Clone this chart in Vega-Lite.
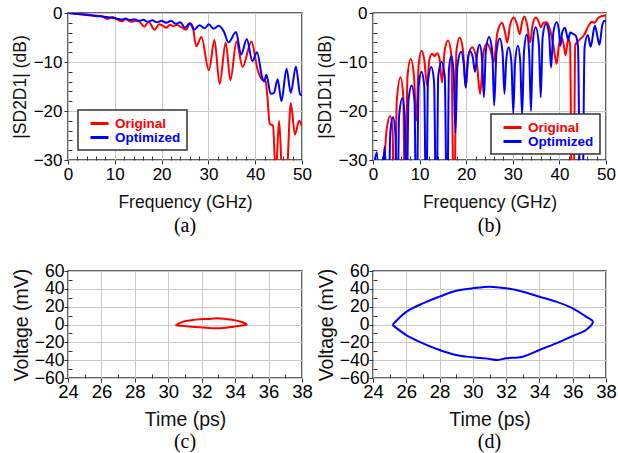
{
  "$schema": "https://vega.github.io/schema/vega-lite/v6.json",
  "background": "white",
  "padding": {"left": 10, "top": 3, "right": 0, "bottom": 0},
  "datasets": {
    "a": [
      {"f":0,"db":0,"s":"Original"},{"f":2,"db":-0.15,"s":"Original"},{"f":4,"db":-0.3,"s":"Original"},{"f":6,"db":-0.55,"s":"Original"},{"f":7,"db":-0.6,"s":"Original"},{"f":8.5,"db":-1.2,"s":"Original"},{"f":9.5,"db":-0.8,"s":"Original"},{"f":10.5,"db":-1.3,"s":"Original"},{"f":11.5,"db":-1.7,"s":"Original"},{"f":12.3,"db":-1.3,"s":"Original"},{"f":13.5,"db":-1.8,"s":"Original"},{"f":14.5,"db":-1.6,"s":"Original"},{"f":15.3,"db":-1.8,"s":"Original"},{"f":16.3,"db":-2.8,"s":"Original"},{"f":17.2,"db":-1.8,"s":"Original"},{"f":18.5,"db":-3.4,"s":"Original"},{"f":19.5,"db":-2.3,"s":"Original"},{"f":20.3,"db":-2.6,"s":"Original"},{"f":21,"db":-3.0,"s":"Original"},{"f":21.8,"db":-2.4,"s":"Original"},{"f":22.5,"db":-2.7,"s":"Original"},{"f":23.3,"db":-2.4,"s":"Original"},{"f":24.2,"db":-2.9,"s":"Original"},{"f":25.2,"db":-3.4,"s":"Original"},{"f":26.1,"db":-2.1,"s":"Original"},{"f":26.6,"db":-2.6,"s":"Original"},{"f":27.4,"db":-6.8,"s":"Original"},{"f":28.5,"db":-4.9,"s":"Original"},{"f":30.1,"db":-11.7,"s":"Original"},{"f":31.3,"db":-5.5,"s":"Original"},{"f":32.4,"db":-14.5,"s":"Original"},{"f":33.7,"db":-6.0,"s":"Original"},{"f":34.7,"db":-13.7,"s":"Original"},{"f":36.0,"db":-5.8,"s":"Original"},{"f":37.3,"db":-11,"s":"Original"},{"f":39.2,"db":-5.8,"s":"Original"},{"f":40.5,"db":-11.5,"s":"Original"},{"f":41.5,"db":-13.6,"s":"Original"},{"f":42.2,"db":-13.9,"s":"Original"},{"f":42.6,"db":-17,"s":"Original"},{"f":43.1,"db":-22.6,"s":"Original"},{"f":43.8,"db":-23,"s":"Original"},{"f":44.4,"db":-33,"s":"Original"},{"f":45.1,"db":-22,"s":"Original"},{"f":45.8,"db":-33,"s":"Original"},{"f":46.7,"db":-33,"s":"Original"},{"f":47.6,"db":-18.4,"s":"Original"},{"f":48.5,"db":-24.8,"s":"Original"},{"f":49.4,"db":-22,"s":"Original"},{"f":50,"db":-23.2,"s":"Original"},
      {"f":0,"db":0,"s":"Optimized"},{"f":2,"db":-0.2,"s":"Optimized"},{"f":4,"db":-0.4,"s":"Optimized"},{"f":6,"db":-0.6,"s":"Optimized"},{"f":8,"db":-0.8,"s":"Optimized"},{"f":9.6,"db":-1.0,"s":"Optimized"},{"f":10.5,"db":-1.15,"s":"Optimized"},{"f":11.5,"db":-1.35,"s":"Optimized"},{"f":12.3,"db":-1.1,"s":"Optimized"},{"f":13.2,"db":-1.45,"s":"Optimized"},{"f":14.2,"db":-1.3,"s":"Optimized"},{"f":15.2,"db":-1.6,"s":"Optimized"},{"f":16.1,"db":-1.4,"s":"Optimized"},{"f":17,"db":-1.8,"s":"Optimized"},{"f":18,"db":-1.5,"s":"Optimized"},{"f":19,"db":-1.9,"s":"Optimized"},{"f":20,"db":-1.6,"s":"Optimized"},{"f":21,"db":-2.0,"s":"Optimized"},{"f":22,"db":-1.6,"s":"Optimized"},{"f":23,"db":-2.2,"s":"Optimized"},{"f":24,"db":-1.9,"s":"Optimized"},{"f":25,"db":-3.0,"s":"Optimized"},{"f":26,"db":-2.1,"s":"Optimized"},{"f":27,"db":-3.4,"s":"Optimized"},{"f":28.1,"db":-2.5,"s":"Optimized"},{"f":29.2,"db":-3.1,"s":"Optimized"},{"f":30.1,"db":-2.3,"s":"Optimized"},{"f":31.1,"db":-3.2,"s":"Optimized"},{"f":32.2,"db":-2.6,"s":"Optimized"},{"f":33.3,"db":-3.8,"s":"Optimized"},{"f":34.3,"db":-6.0,"s":"Optimized"},{"f":35.9,"db":-3.9,"s":"Optimized"},{"f":37.0,"db":-8.5,"s":"Optimized"},{"f":38.2,"db":-5.3,"s":"Optimized"},{"f":39.4,"db":-9.8,"s":"Optimized"},{"f":40.4,"db":-8.0,"s":"Optimized"},{"f":41.5,"db":-13.2,"s":"Optimized"},{"f":41.9,"db":-14,"s":"Optimized"},{"f":42.4,"db":-12.6,"s":"Optimized"},{"f":43.3,"db":-16.5,"s":"Optimized"},{"f":44.0,"db":-16.3,"s":"Optimized"},{"f":44.8,"db":-13.5,"s":"Optimized"},{"f":45.6,"db":-18.0,"s":"Optimized"},{"f":46.7,"db":-11.4,"s":"Optimized"},{"f":47.6,"db":-16.3,"s":"Optimized"},{"f":48.7,"db":-10.9,"s":"Optimized"},{"f":49.6,"db":-16.6,"s":"Optimized"},{"f":50,"db":-16.8,"s":"Optimized"}
    ],
    "b": [
      {"f":0,"db":-45,"s":"Original"},{"f":1.5,"db":-42,"s":"Original"},{"f":2.3,"db":-33,"s":"Original"},{"f":2.9,"db":-24,"s":"Original"},{"f":3.7,"db":-21,"s":"Original"},{"f":4.2,"db":-24,"s":"Original"},{"f":4.6,"db":-45,"s":"Original"},{"f":5.1,"db":-18,"s":"Original"},{"f":5.9,"db":-13.1,"s":"Original"},{"f":6.5,"db":-17,"s":"Original"},{"f":6.9,"db":-45,"s":"Original"},{"f":7.4,"db":-13,"s":"Original"},{"f":8.1,"db":-9.4,"s":"Original"},{"f":8.8,"db":-13,"s":"Original"},{"f":9.3,"db":-22,"s":"Original"},{"f":9.8,"db":-10.5,"s":"Original"},{"f":10.4,"db":-7.7,"s":"Original"},{"f":11.0,"db":-9.5,"s":"Original"},{"f":11.6,"db":-14.8,"s":"Original"},{"f":12.1,"db":-9.5,"s":"Original"},{"f":12.7,"db":-8.3,"s":"Original"},{"f":13.2,"db":-8.8,"s":"Original"},{"f":13.8,"db":-8.2,"s":"Original"},{"f":14.3,"db":-9.5,"s":"Original"},{"f":14.8,"db":-14.2,"s":"Original"},{"f":15.4,"db":-7.5,"s":"Original"},{"f":16.1,"db":-5.6,"s":"Original"},{"f":16.8,"db":-8.5,"s":"Original"},{"f":17.4,"db":-45,"s":"Original"},{"f":17.9,"db":-7.8,"s":"Original"},{"f":18.6,"db":-5.0,"s":"Original"},{"f":19.3,"db":-7.5,"s":"Original"},{"f":19.9,"db":-15.2,"s":"Original"},{"f":20.5,"db":-8.5,"s":"Original"},{"f":21.3,"db":-7.0,"s":"Original"},{"f":22.2,"db":-9.5,"s":"Original"},{"f":23.0,"db":-16.5,"s":"Original"},{"f":23.7,"db":-8,"s":"Original"},{"f":24.5,"db":-6.2,"s":"Original"},{"f":25.2,"db":-7.5,"s":"Original"},{"f":25.9,"db":-10.0,"s":"Original"},{"f":26.7,"db":-4,"s":"Original"},{"f":27.7,"db":-2.0,"s":"Original"},{"f":28.3,"db":-3.8,"s":"Original"},{"f":28.8,"db":-6.0,"s":"Original"},{"f":29.4,"db":-2.5,"s":"Original"},{"f":30.2,"db":-0.9,"s":"Original"},{"f":30.9,"db":-2.3,"s":"Original"},{"f":31.5,"db":-4.3,"s":"Original"},{"f":32.0,"db":-1.8,"s":"Original"},{"f":32.5,"db":-0.7,"s":"Original"},{"f":33.1,"db":-2.5,"s":"Original"},{"f":33.7,"db":-6.0,"s":"Original"},{"f":34.3,"db":-2.2,"s":"Original"},{"f":34.9,"db":-0.9,"s":"Original"},{"f":35.5,"db":-1.6,"s":"Original"},{"f":36.0,"db":-2.9,"s":"Original"},{"f":36.6,"db":-2.0,"s":"Original"},{"f":37.3,"db":-1.9,"s":"Original"},{"f":38.0,"db":-3.5,"s":"Original"},{"f":38.7,"db":-6.5,"s":"Original"},{"f":39.4,"db":-10.4,"s":"Original"},{"f":39.9,"db":-6.5,"s":"Original"},{"f":40.5,"db":-5.0,"s":"Original"},{"f":41.0,"db":-7,"s":"Original"},{"f":41.3,"db":-8.6,"s":"Original"},{"f":41.9,"db":-5.3,"s":"Original"},{"f":42.3,"db":-6.5,"s":"Original"},{"f":42.7,"db":-45,"s":"Original"},{"f":43.0,"db":-45,"s":"Original"},{"f":43.4,"db":-6.5,"s":"Original"},{"f":44.3,"db":-5.5,"s":"Original"},{"f":45.3,"db":-4.5,"s":"Original"},{"f":46.3,"db":-2.5,"s":"Original"},{"f":47.0,"db":-1.8,"s":"Original"},{"f":47.5,"db":-2.0,"s":"Original"},{"f":48.3,"db":-1.0,"s":"Original"},{"f":49.2,"db":-0.6,"s":"Original"},{"f":50,"db":-0.5,"s":"Original"},
      {"f":0,"db":-33,"s":"Optimized"},{"f":0.87,"db":-28.4,"s":"Optimized"},{"f":1.6,"db":-45,"s":"Optimized"},{"f":2.5,"db":-27.3,"s":"Optimized"},{"f":3.3,"db":-45,"s":"Optimized"},{"f":3.7,"db":-24.5,"s":"Optimized"},{"f":4.3,"db":-21.3,"s":"Optimized"},{"f":4.8,"db":-24.5,"s":"Optimized"},{"f":5.2,"db":-45,"s":"Optimized"},{"f":5.6,"db":-21,"s":"Optimized"},{"f":6.3,"db":-17.4,"s":"Optimized"},{"f":6.8,"db":-21,"s":"Optimized"},{"f":7.2,"db":-45,"s":"Optimized"},{"f":7.6,"db":-18,"s":"Optimized"},{"f":8.3,"db":-14.8,"s":"Optimized"},{"f":8.9,"db":-18,"s":"Optimized"},{"f":9.3,"db":-45,"s":"Optimized"},{"f":9.8,"db":-15,"s":"Optimized"},{"f":10.4,"db":-12.0,"s":"Optimized"},{"f":11.0,"db":-15,"s":"Optimized"},{"f":11.4,"db":-45,"s":"Optimized"},{"f":11.8,"db":-14,"s":"Optimized"},{"f":12.5,"db":-11.0,"s":"Optimized"},{"f":13.1,"db":-14,"s":"Optimized"},{"f":13.6,"db":-45,"s":"Optimized"},{"f":14.0,"db":-13,"s":"Optimized"},{"f":14.7,"db":-10.0,"s":"Optimized"},{"f":15.4,"db":-13,"s":"Optimized"},{"f":15.9,"db":-45,"s":"Optimized"},{"f":16.3,"db":-11.5,"s":"Optimized"},{"f":16.8,"db":-8.8,"s":"Optimized"},{"f":17.3,"db":-12,"s":"Optimized"},{"f":17.7,"db":-24.4,"s":"Optimized"},{"f":18.1,"db":-11,"s":"Optimized"},{"f":18.9,"db":-7.9,"s":"Optimized"},{"f":19.5,"db":-10.5,"s":"Optimized"},{"f":19.9,"db":-15.2,"s":"Optimized"},{"f":20.3,"db":-10,"s":"Optimized"},{"f":20.8,"db":-7.8,"s":"Optimized"},{"f":21.4,"db":-9,"s":"Optimized"},{"f":21.9,"db":-12,"s":"Optimized"},{"f":22.4,"db":-8,"s":"Optimized"},{"f":22.9,"db":-6.5,"s":"Optimized"},{"f":23.4,"db":-9.5,"s":"Optimized"},{"f":23.8,"db":-17.2,"s":"Optimized"},{"f":24.2,"db":-8,"s":"Optimized"},{"f":24.9,"db":-4.9,"s":"Optimized"},{"f":25.6,"db":-8,"s":"Optimized"},{"f":26.0,"db":-18.9,"s":"Optimized"},{"f":26.5,"db":-8,"s":"Optimized"},{"f":27.2,"db":-5.2,"s":"Optimized"},{"f":27.8,"db":-8,"s":"Optimized"},{"f":28.2,"db":-16.5,"s":"Optimized"},{"f":28.6,"db":-9.5,"s":"Optimized"},{"f":29.1,"db":-7.0,"s":"Optimized"},{"f":29.7,"db":-10,"s":"Optimized"},{"f":30.1,"db":-20.5,"s":"Optimized"},{"f":30.5,"db":-10,"s":"Optimized"},{"f":31.1,"db":-6.7,"s":"Optimized"},{"f":31.6,"db":-10,"s":"Optimized"},{"f":32.0,"db":-21,"s":"Optimized"},{"f":32.4,"db":-8,"s":"Optimized"},{"f":33.0,"db":-4.4,"s":"Optimized"},{"f":33.5,"db":-8,"s":"Optimized"},{"f":33.9,"db":-20,"s":"Optimized"},{"f":34.3,"db":-6,"s":"Optimized"},{"f":34.9,"db":-2.9,"s":"Optimized"},{"f":35.6,"db":-6.5,"s":"Optimized"},{"f":36.0,"db":-17.2,"s":"Optimized"},{"f":36.4,"db":-5,"s":"Optimized"},{"f":37.1,"db":-2.2,"s":"Optimized"},{"f":37.8,"db":-4.5,"s":"Optimized"},{"f":38.2,"db":-11.1,"s":"Optimized"},{"f":38.7,"db":-4,"s":"Optimized"},{"f":39.4,"db":-1.9,"s":"Optimized"},{"f":39.9,"db":-3.5,"s":"Optimized"},{"f":40.2,"db":-6.7,"s":"Optimized"},{"f":40.6,"db":-4,"s":"Optimized"},{"f":41.2,"db":-3.0,"s":"Optimized"},{"f":41.6,"db":-4.5,"s":"Optimized"},{"f":41.9,"db":-5.5,"s":"Optimized"},{"f":42.3,"db":-4,"s":"Optimized"},{"f":43.0,"db":-4.3,"s":"Optimized"},{"f":43.5,"db":-4.6,"s":"Optimized"},{"f":44.0,"db":-7,"s":"Optimized"},{"f":44.5,"db":-45,"s":"Optimized"},{"f":44.9,"db":-45,"s":"Optimized"},{"f":45.4,"db":-7,"s":"Optimized"},{"f":46.1,"db":-4.5,"s":"Optimized"},{"f":46.7,"db":-6.9,"s":"Optimized"},{"f":47.6,"db":-2.6,"s":"Optimized"},{"f":48.3,"db":-5.5,"s":"Optimized"},{"f":48.6,"db":-6.5,"s":"Optimized"},{"f":49.2,"db":-2.5,"s":"Optimized"},{"f":49.7,"db":-1.6,"s":"Optimized"},{"f":50,"db":-1.8,"s":"Optimized"}
    ],
    "c": [
      {"i":0,"t":30.43,"v":-0.9},{"i":1,"t":30.9,"v":3.2},{"i":2,"t":31.4,"v":4.8},{"i":3,"t":31.9,"v":5.8},{"i":4,"t":32.4,"v":6.2},{"i":5,"t":32.9,"v":6.9},{"i":6,"t":33.4,"v":6.2},{"i":7,"t":33.9,"v":5.0},{"i":8,"t":34.4,"v":2.8},{"i":9,"t":34.69,"v":-0.2},{"i":10,"t":34.4,"v":-1.2},{"i":11,"t":33.9,"v":-2.4},{"i":12,"t":33.4,"v":-3.6},{"i":13,"t":32.9,"v":-4.3},{"i":14,"t":32.4,"v":-4.0},{"i":15,"t":31.9,"v":-3.2},{"i":16,"t":31.4,"v":-2.4},{"i":17,"t":30.9,"v":-1.7},{"i":18,"t":30.43,"v":-0.9}
    ],
    "d": [
      {"i":0,"t":25.17,"v":-0.4},{"i":1,"t":26,"v":14.2},{"i":2,"t":27,"v":23.7},{"i":3,"t":28,"v":31.2},{"i":4,"t":29,"v":37.9},{"i":5,"t":30,"v":40.6},{"i":6,"t":31,"v":42.4},{"i":7,"t":32,"v":40.6},{"i":8,"t":33,"v":36.8},{"i":9,"t":34,"v":31.2},{"i":10,"t":35,"v":25.6},{"i":11,"t":36,"v":18.1},{"i":12,"t":36.8,"v":8.8},{"i":13,"t":37.21,"v":3.0},{"i":14,"t":36.8,"v":-6.2},{"i":15,"t":36,"v":-12.9},{"i":16,"t":35,"v":-21.1},{"i":17,"t":34,"v":-28.6},{"i":18,"t":33,"v":-36.1},{"i":19,"t":32,"v":-37.9},{"i":20,"t":31.5,"v":-39.8},{"i":21,"t":31,"v":-38.7},{"i":22,"t":30,"v":-36.8},{"i":23,"t":29,"v":-34.2},{"i":24,"t":28,"v":-28.6},{"i":25,"t":27,"v":-21.1},{"i":26,"t":26,"v":-11.8},{"i":27,"t":25.17,"v":-0.4}
    ]
  },
  "columns": 2,
  "bounds": "flush",
  "spacing": {"row": 111, "column": 71},
  "resolve": {"scale": {"color": "independent"}, "legend": {"color": "independent"}},
  "concat": [
    {
      "width": 234, "height": 147,
      "data": {"name": "a"},
      "mark": {"type": "line", "clip": true, "strokeWidth": 2, "interpolate": "monotone"},
      "encoding": {
        "x": {"field": "f", "type": "quantitative", "scale": {"domain": [0, 50], "nice": false},
          "axis": {"title": "Frequency (GHz)", "values": [0,2,4,6,8,10,12,14,16,18,20,22,24,26,28,30,32,34,36,38,40,42,44,46,48,50],
            "labelExpr": "datum.value % 10 === 0 ? datum.label : ''",
            "tickSize": {"condition": {"test": "datum.value % 10 === 0", "value": 4}, "value": -4},
            "gridOpacity": {"condition": {"test": "datum.value % 10 === 0", "value": 1}, "value": 0},
            "labelFontSize": 17, "titleFontSize": 17.5, "labelPadding": 2, "titlePadding": 11}},
        "y": {"field": "db", "type": "quantitative", "scale": {"domain": [-30, 0], "nice": false},
          "axis": {"title": "|SD2D1| (dB)", "values": [-30,-28,-26,-24,-22,-20,-18,-16,-14,-12,-10,-8,-6,-4,-2,0],
            "labelExpr": "datum.value % 10 === 0 ? datum.label : ''",
            "tickSize": {"condition": {"test": "datum.value % 10 === 0", "value": 4}, "value": -4},
            "gridOpacity": {"condition": {"test": "datum.value % 10 === 0", "value": 1}, "value": 0},
            "labelFontSize": 17, "titleFontSize": 17.5, "labelPadding": 2, "titlePadding": 4}},
        "color": {"field": "s", "type": "nominal", "sort": ["Original", "Optimized"],
          "scale": {"domain": ["Original", "Optimized"], "range": ["#ff0000", "#0000ff"]},
          "legend": {"title": null,
            "orient": "bottom-left", "offset": 10,
            "symbolType": "M-1.5,0H1.5", "symbolSize": 144, "symbolStrokeWidth": 3,
            "labelFont": "Liberation Sans", "labelFontSize": 13.5, "labelFontWeight": "bold",
            "padding": 6, "rowPadding": 0, "labelOffset": 8, "symbolOffset": 8,
            "fillColor": "white", "strokeColor": "#333",
            "encode": {"labels": {"update": {
                         "fill": [{"test": "datum.value === 'Original'", "value": "#ff0000"}, {"value": "#0000ff"}]}},
                       "legend": {"update": {"strokeWidth": {"value": 1.5}}}}}}
      },
      "title": {"text": "(a)", "orient": "bottom", "offset": 5}
    },
    {
      "width": 233, "height": 147,
      "data": {"name": "b"},
      "mark": {"type": "line", "clip": true, "strokeWidth": 2, "interpolate": "monotone"},
      "encoding": {
        "x": {"field": "f", "type": "quantitative", "scale": {"domain": [0, 50], "nice": false},
          "axis": {"title": "Frequency (GHz)", "values": [0,2,4,6,8,10,12,14,16,18,20,22,24,26,28,30,32,34,36,38,40,42,44,46,48,50],
            "labelExpr": "datum.value % 10 === 0 ? datum.label : ''",
            "tickSize": {"condition": {"test": "datum.value % 10 === 0", "value": 4}, "value": -4},
            "gridOpacity": {"condition": {"test": "datum.value % 10 === 0", "value": 1}, "value": 0},
            "labelFontSize": 17, "titleFontSize": 17.5, "labelPadding": 2, "titlePadding": 11}},
        "y": {"field": "db", "type": "quantitative", "scale": {"domain": [-30, 0], "nice": false},
          "axis": {"title": "|SD1D1| (dB)", "values": [-30,-28,-26,-24,-22,-20,-18,-16,-14,-12,-10,-8,-6,-4,-2,0],
            "labelExpr": "datum.value % 10 === 0 ? datum.label : ''",
            "tickSize": {"condition": {"test": "datum.value % 10 === 0", "value": 4}, "value": -4},
            "gridOpacity": {"condition": {"test": "datum.value % 10 === 0", "value": 1}, "value": 0},
            "labelFontSize": 17, "titleFontSize": 17.5, "labelPadding": 2, "titlePadding": 4}},
        "color": {"field": "s", "type": "nominal", "sort": ["Original", "Optimized"],
          "scale": {"domain": ["Original", "Optimized"], "range": ["#ff0000", "#0000ff"]},
          "legend": {"title": null,
            "orient": "bottom-right", "offset": 6,
            "symbolType": "M-1.5,0H1.5", "symbolSize": 144, "symbolStrokeWidth": 3,
            "labelFont": "Liberation Sans", "labelFontSize": 13.5, "labelFontWeight": "bold",
            "padding": 6, "rowPadding": 0, "labelOffset": 8, "symbolOffset": 8,
            "fillColor": "white", "strokeColor": "#333",
            "encode": {"labels": {"update": {
                         "fill": [{"test": "datum.value === 'Original'", "value": "#ff0000"}, {"value": "#0000ff"}]}},
                       "legend": {"update": {"strokeWidth": {"value": 1.5}}}}}}
      },
      "title": {"text": "(b)", "orient": "bottom", "offset": 5}
    },
    {
      "width": 234, "height": 107,
      "data": {"name": "c"},
      "mark": {"type": "line", "clip": true, "strokeWidth": 2, "color": "#ff0000", "interpolate": "catmull-rom"},
      "encoding": {
        "x": {"field": "t", "type": "quantitative", "scale": {"domain": [24, 38], "nice": false},
          "axis": {"title": "Time (ps)", "values": [24,25,26,27,28,29,30,31,32,33,34,35,36,37,38],
            "labelExpr": "datum.value % 2 === 0 ? datum.label : ''",
            "tickSize": {"condition": {"test": "datum.value % 2 === 0", "value": 4}, "value": -4},
            "gridOpacity": {"condition": {"test": "datum.value % 2 === 0", "value": 1}, "value": 0},
            "labelFontSize": 18.5, "titleFontSize": 19.5, "labelPadding": 0, "titlePadding": 10}},
        "y": {"field": "v", "type": "quantitative", "scale": {"domain": [-60, 60], "nice": false},
          "axis": {"title": "Voltage (mV)", "values": [-60,-50,-40,-30,-20,-10,0,10,20,30,40,50,60],
            "labelExpr": "datum.value % 20 === 0 ? datum.label : ''",
            "tickSize": {"condition": {"test": "datum.value % 20 === 0", "value": 4}, "value": -4},
            "gridOpacity": {"condition": {"test": "datum.value % 20 === 0", "value": 1}, "value": 0},
            "labelFontSize": 17.5, "titleFontSize": 19.5, "labelPadding": 0, "titlePadding": 3}},
        "order": {"field": "i", "type": "quantitative"}
      },
      "title": {"text": "(c)", "orient": "bottom", "offset": 3}
    },
    {
      "width": 233, "height": 107,
      "data": {"name": "d"},
      "mark": {"type": "line", "clip": true, "strokeWidth": 2, "color": "#0000ff", "interpolate": "catmull-rom"},
      "encoding": {
        "x": {"field": "t", "type": "quantitative", "scale": {"domain": [24, 38], "nice": false},
          "axis": {"title": "Time (ps)", "values": [24,25,26,27,28,29,30,31,32,33,34,35,36,37,38],
            "labelExpr": "datum.value % 2 === 0 ? datum.label : ''",
            "tickSize": {"condition": {"test": "datum.value % 2 === 0", "value": 4}, "value": -4},
            "gridOpacity": {"condition": {"test": "datum.value % 2 === 0", "value": 1}, "value": 0},
            "labelFontSize": 18.5, "titleFontSize": 19.5, "labelPadding": 0, "titlePadding": 10}},
        "y": {"field": "v", "type": "quantitative", "scale": {"domain": [-60, 60], "nice": false},
          "axis": {"title": "Voltage (mV)", "values": [-60,-50,-40,-30,-20,-10,0,10,20,30,40,50,60],
            "labelExpr": "datum.value % 20 === 0 ? datum.label : ''",
            "tickSize": {"condition": {"test": "datum.value % 20 === 0", "value": 4}, "value": -4},
            "gridOpacity": {"condition": {"test": "datum.value % 20 === 0", "value": 1}, "value": 0},
            "labelFontSize": 17.5, "titleFontSize": 19.5, "labelPadding": 0, "titlePadding": 3}},
        "order": {"field": "i", "type": "quantitative"}
      },
      "title": {"text": "(d)", "orient": "bottom", "offset": 3}
    }
  ],
  "config": {
    "view": {"stroke": "#333333", "strokeWidth": 1.5},
    "axis": {"domain": false, "grid": true, "gridColor": "#c8c8c8", "gridWidth": 1, "tickColor": "#333333", "tickWidth": 1,
      "labelFont": "Liberation Sans", "titleFont": "Liberation Sans", "labelColor": "#000000", "titleColor": "#111111",
      "titleFontWeight": "normal", "labelFlush": false, "labelOverlap": false, "labelBound": false},
    "title": {"font": "Liberation Serif", "fontSize": 20, "fontWeight": "normal", "color": "#000000"}
  }
}
